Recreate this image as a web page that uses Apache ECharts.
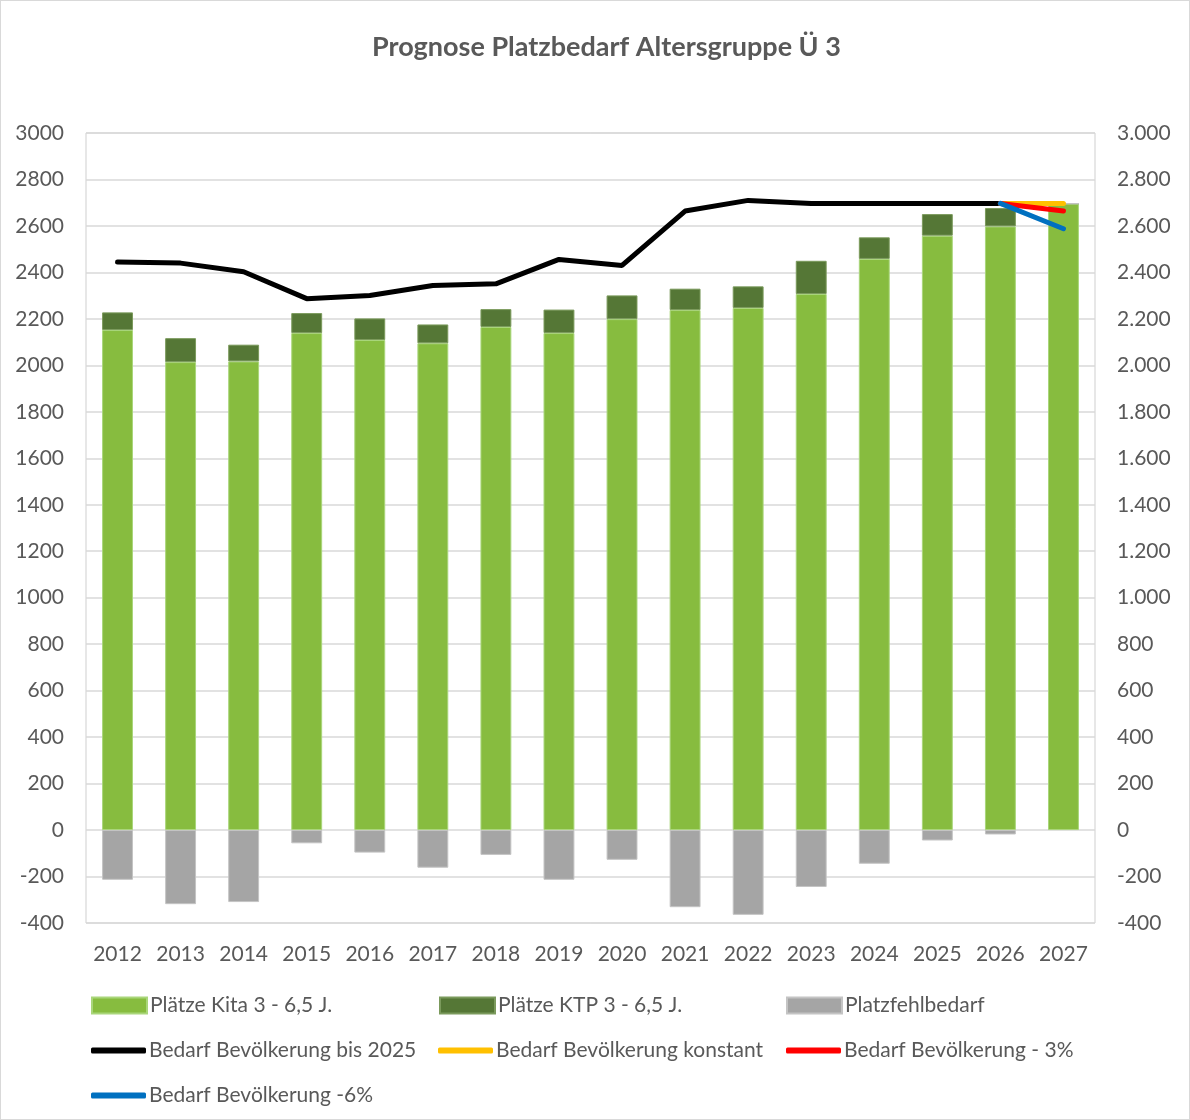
<!DOCTYPE html>
<html>
<head>
<meta charset="utf-8">
<script src="https://cdn.jsdelivr.net/npm/echarts@6/dist/echarts.min.js"></script>
<style>
  html, body { margin: 0; padding: 0; background: #fff; }
  #chart { width: 1188px; height: 1118px; border: 1px solid #d9d9d9; }
</style>
</head>
<body>
<div id="chart"></div>
<script>
// Jahre
var years = ['2012','2013','2014','2015','2016','2017','2018','2019','2020','2021','2022','2023','2024','2025','2026','2027'];
// Plätze Kita 3 - 6,5 J.
var kita = [2152,2014,2017,2139,2109,2095,2165,2139,2199,2238,2247,2307,2458,2558,2598,2696];
// Plätze KTP 3 - 6,5 J.
var ktp = [76,103,72,86,93,81,77,101,102,92,93,143,93,93,79,0];
// Platzfehlbedarf
var fehl = [-214,-319,-310,-57,-97,-162,-107,-214,-128,-332,-365,-245,-145,-45,-19,0];
// Bedarf Bevölkerung bis 2025
var bedarf = [2445,2440,2403,2287,2301,2344,2351,2456,2430,2664,2710,2697,2697,2697,2697,null];
// Szenarien ab 2026
var konstant = [null,null,null,null,null,null,null,null,null,null,null,null,null,null,2697,2697];
var minus3 = [null,null,null,null,null,null,null,null,null,null,null,null,null,null,2697,2664];
var minus6 = [null,null,null,null,null,null,null,null,null,null,null,null,null,null,2697,2588];

var FONT = 'Lato';
var TXT = '#595959';

function legendItem(name, left, top, isLine) {
  return {
    data: [name],
    left: left,
    top: top,
    padding: 0,
    icon: isLine ? 'roundRect' : 'rect',
    itemWidth: 55,
    itemHeight: isLine ? 6 : 16,
    itemGap: 0,
    textStyle: { color: TXT, fontSize: 21, fontFamily: FONT, padding: [0, 0, 0, -2] },
    selectedMode: false
  };
}

function lineSeries(name, data, color) {
  return {
    name: name,
    type: 'line',
    data: data,
    symbol: 'none',
    lineStyle: { color: color, width: 5, cap: 'round' },
    itemStyle: { color: color },
    connectNulls: false,
    z: 5
  };
}

var chart = echarts.init(document.getElementById('chart'));
chart.setOption({
  animation: false,
  backgroundColor: '#fff',
  textStyle: { fontFamily: FONT },
  title: {
    text: 'Prognose Platzbedarf Altersgruppe Ü 3',
    left: 366,
    top: 28,
    textStyle: { color: TXT, fontSize: 27, fontWeight: 'bold', fontFamily: FONT }
  },
  legend: [
    legendItem('Plätze Kita 3 - 6,5 J.', 90, 994, false),
    legendItem('Plätze KTP 3 - 6,5 J.', 438, 994, false),
    legendItem('Platzfehlbedarf', 785, 994, false),
    legendItem('Bedarf Bevölkerung bis 2025', 90, 1039, true),
    legendItem('Bedarf Bevölkerung konstant', 437, 1039, true),
    legendItem('Bedarf Bevölkerung - 3%', 785, 1039, true),
    legendItem('Bedarf Bevölkerung -6%', 90, 1084, true)
  ],
  grid: {
    left: 85, right: 94, top: 132, height: 790,
    show: true, borderColor: '#cfcfcf', borderWidth: 1
  },
  xAxis: {
    type: 'category',
    data: years,
    axisLine: { show: false },
    axisTick: { show: false },
    axisLabel: { color: TXT, fontSize: 21, fontFamily: FONT, margin: 21, interval: 0 }
  },
  yAxis: [
    {
      type: 'value', min: -400, max: 3000, interval: 200,
      axisLine: { show: false }, axisTick: { show: false },
      splitLine: { lineStyle: { color: '#d9d9d9', width: 1.5 } },
      axisLabel: {
        color: TXT, fontSize: 21, fontFamily: FONT, margin: 22,
        formatter: function (v) { return String(v); }
      }
    },
    {
      type: 'value', min: -400, max: 3000, interval: 200,
      axisLine: { show: false }, axisTick: { show: false },
      splitLine: { show: false },
      axisLabel: {
        color: TXT, fontSize: 21, fontFamily: FONT, margin: 22,
        formatter: function (v) { return v.toString().replace(/\B(?=(\d{3})+(?!\d))/g, '.'); }
      }
    }
  ],
  series: [
    {
      name: 'Plätze Kita 3 - 6,5 J.', type: 'bar', stack: 'a', data: kita, barWidth: '49%',
      itemStyle: { color: '#87BC3F', borderColor: '#a9d67a', borderWidth: 1 }
    },
    {
      name: 'Plätze KTP 3 - 6,5 J.', type: 'bar', stack: 'a', data: ktp, barWidth: '49%',
      itemStyle: { color: '#557736', borderColor: '#7b9a5c', borderWidth: 1 }
    },
    {
      name: 'Platzfehlbedarf', type: 'bar', stack: 'a', data: fehl, barWidth: '49%',
      itemStyle: { color: '#A5A5A5', borderColor: '#c4c4c4', borderWidth: 1 }
    },
    lineSeries('Bedarf Bevölkerung bis 2025', bedarf, '#000000'),
    lineSeries('Bedarf Bevölkerung konstant', konstant, '#FFC000'),
    lineSeries('Bedarf Bevölkerung - 3%', minus3, '#FF0000'),
    lineSeries('Bedarf Bevölkerung -6%', minus6, '#0070C0')
  ]
});
</script>
</body>
</html>
